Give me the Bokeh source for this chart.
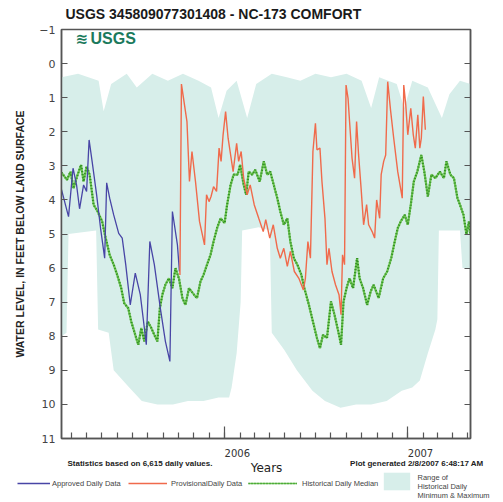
import numpy as np
from bokeh.plotting import figure
from bokeh.models import Range1d, FixedTicker, LinearAxis, Label, Legend, LegendItem
from bokeh.layouts import column
from bokeh.embed import file_html
from bokeh.resources import INLINE

# ---------------- data ----------------
approved_dates = ["2005-02-10", "2005-02-24", "2005-03-05", "2005-03-12", "2005-03-18", "2005-03-26",
                  "2005-04-01", "2005-04-06", "2005-04-12", "2005-04-21", "2005-04-29", "2005-05-07",
                  "2005-05-11", "2005-05-17", "2005-05-25", "2005-06-04", "2005-06-11", "2005-06-18",
                  "2005-06-27", "2005-07-07", "2005-07-17", "2005-07-23", "2005-07-29", "2005-08-05",
                  "2005-08-14", "2005-08-26", "2005-09-05", "2005-09-14", "2005-09-19", "2005-09-29",
                  "2005-10-03"]
approved_vals = [3.7, 4.49, 3.07, 3.56, 4.26, 3.56,
                 3.75, 2.24, 2.87, 3.85, 4.85, 5.71,
                 3.5, 3.95, 4.44, 4.98, 5.12, 5.9,
                 7.08, 6.15, 6.78, 7.5, 8.25, 5.22,
                 5.9, 7.18, 8.15, 8.74, 4.34, 5.32,
                 6.1]

provisional_dates = ["2005-10-04", "2005-10-07", "2005-10-18", "2005-10-23", "2005-10-28", "2005-11-04",
                     "2005-11-12", "2005-11-22", "2005-11-26", "2005-12-01", "2005-12-05", "2005-12-10",
                     "2005-12-16", "2005-12-21", "2005-12-25", "2005-12-29", "2006-01-03", "2006-01-08",
                     "2006-01-13", "2006-01-18", "2006-01-25", "2006-01-29", "2006-02-03", "2006-02-08",
                     "2006-02-15", "2006-02-21", "2006-03-01", "2006-03-10", "2006-03-19", "2006-03-24",
                     "2006-04-01", "2006-04-08", "2006-04-16", "2006-04-22", "2006-04-29", "2006-05-06",
                     "2006-05-12", "2006-05-20", "2006-05-29", "2006-06-07", "2006-06-11", "2006-06-16",
                     "2006-06-21", "2006-06-26", "2006-07-01", "2006-07-04", "2006-07-10", "2006-07-14",
                     "2006-07-20", "2006-07-24", "2006-07-28", "2006-08-03", "2006-08-10", "2006-08-17",
                     "2006-08-21", "2006-08-24", "2006-08-28", "2006-08-31", "2006-09-04", "2006-09-07",
                     "2006-09-12", "2006-09-17", "2006-09-21", "2006-09-25", "2006-09-30", "2006-10-05",
                     "2006-10-11", "2006-10-15", "2006-10-22", "2006-10-27", "2006-10-31", "2006-11-06",
                     "2006-11-09", "2006-11-14", "2006-11-18", "2006-11-22", "2006-11-28", "2006-12-04",
                     "2006-12-12", "2006-12-21", "2006-12-24", "2006-12-28", "2007-01-01", "2007-01-07",
                     "2007-01-12", "2007-01-16", "2007-01-21", "2007-01-25", "2007-01-28", "2007-02-01",
                     "2007-02-05"]
provisional_vals = [6.2, 0.6, 1.70, 3.46, 2.58, 3.46,
                    4.63, 5.32, 3.85, 4.05, 3.9, 3.61,
                    3.75, 2.48, 2.87, 2.09, 1.41, 2.19,
                    2.68, 3.17, 2.34, 2.87, 2.58, 3.36,
                    3.85, 3.56, 4.14, 4.54, 4.93, 4.58,
                    5.12, 4.73, 5.42, 5.71, 5.42, 5.95,
                    5.51, 6.1, 6.3, 6.64, 6.3, 5.22,
                    5.71, 2.58, 1.75, 2.53, 2.48, 3.46,
                    4.54, 5.9, 5.42, 6.1, 6.49, 6.78,
                    7.37, 5.61, 5.9, 0.63, 1.02, 1.70,
                    2.78, 3.36, 1.70, 2.68, 3.66, 4.73,
                    4.14, 4.73, 4.93, 5.12, 4.0, 4.54,
                    3.26, 2.87, 2.68, 0.53, 1.41, 2.19,
                    3.17, 3.95, 0.63, 1.21, 2.09, 1.31,
                    2.09, 2.48, 1.50, 2.48, 2.19, 0.97,
                    1.94]

median_dates = ["2005-02-10", "2005-02-21", "2005-02-28", "2005-03-06", "2005-03-13", "2005-03-21",
                "2005-03-26", "2005-04-01", "2005-04-07", "2005-04-15", "2005-04-23", "2005-05-02",
                "2005-05-09", "2005-05-17", "2005-05-25", "2005-06-01", "2005-06-09", "2005-06-15",
                "2005-06-23", "2005-06-29", "2005-07-07", "2005-07-13", "2005-07-19", "2005-07-25",
                "2005-08-01", "2005-08-08", "2005-08-14", "2005-08-20", "2005-08-25", "2005-08-30",
                "2005-09-05", "2005-09-12", "2005-09-19", "2005-09-25", "2005-10-02", "2005-10-09",
                "2005-10-15", "2005-10-22", "2005-11-01", "2005-11-07", "2005-11-14", "2005-11-20",
                "2005-11-27", "2005-12-04", "2005-12-10", "2005-12-17", "2005-12-24", "2006-01-01",
                "2006-01-06", "2006-01-13", "2006-01-19", "2006-01-27", "2006-02-01", "2006-02-08",
                "2006-02-13", "2006-02-18", "2006-02-25", "2006-03-03", "2006-03-12", "2006-03-20",
                "2006-03-27", "2006-04-02", "2006-04-09", "2006-04-16", "2006-04-22", "2006-04-29",
                "2006-05-06", "2006-05-12", "2006-05-19", "2006-05-26", "2006-06-03", "2006-06-09",
                "2006-06-18", "2006-06-26", "2006-07-04", "2006-07-10", "2006-07-16", "2006-07-24",
                "2006-08-01", "2006-08-08", "2006-08-17", "2006-08-21", "2006-08-26", "2006-09-01",
                "2006-09-07", "2006-09-14", "2006-09-22", "2006-09-27", "2006-10-04", "2006-10-12",
                "2006-10-19", "2006-10-25", "2006-11-04", "2006-11-13", "2006-11-21", "2006-11-29",
                "2006-12-06", "2006-12-12", "2006-12-18", "2006-12-26", "2007-01-01", "2007-01-07",
                "2007-01-13", "2007-01-20", "2007-01-28", "2007-02-03", "2007-02-10", "2007-02-17",
                "2007-02-25", "2007-03-06", "2007-03-14", "2007-03-19", "2007-03-27", "2007-04-03",
                "2007-04-10", "2007-04-15", "2007-04-22", "2007-04-28", "2007-05-03", "2007-05-06"]
median_vals = [3.2, 3.41, 3.17, 3.66, 3.31, 2.97,
               3.46, 3.02, 3.26, 4.14, 4.34, 4.63,
               5.12, 5.61, 5.90, 6.2, 6.59, 7.03,
               7.18, 7.57, 7.96, 8.25, 7.76, 8.15,
               7.57, 7.76, 7.96, 8.15, 7.18, 6.78,
               6.49, 6.30, 6.59, 6.0, 6.30, 6.88,
               7.08, 6.59, 6.78, 6.88, 6.39, 6.20,
               5.90, 5.61, 5.22, 4.83, 4.54, 4.68,
               4.14, 3.56, 3.26, 3.26, 2.97, 3.56,
               3.85, 3.17, 3.26, 3.12, 3.46, 2.87,
               3.26, 3.17, 3.56, 3.95, 4.34, 4.73,
               4.54, 5.22, 5.71, 5.90, 6.20, 6.59,
               7.08, 7.57, 8.05, 8.35, 7.96, 8.05,
               6.98, 7.37, 7.96, 8.25, 6.98, 6.59,
               6.30, 6.59, 5.71, 6.30, 6.59, 7.08,
               6.69, 6.49, 6.88, 6.30, 6.10, 5.71,
               5.22, 4.83, 4.63, 4.44, 4.73, 4.14,
               3.46, 3.17, 2.68, 3.17, 3.90, 3.26,
               3.36, 3.17, 3.36, 2.87, 3.26, 3.36,
               3.95, 4.14, 4.44, 5.02, 4.63, 5.02]

range_max_dates = ["2005-02-10", "2005-03-15", "2005-04-25", "2005-05-05", "2005-05-20", "2005-06-20",
                   "2005-07-10", "2005-08-10", "2005-09-10", "2005-10-10", "2005-11-10", "2005-12-05",
                   "2005-12-20", "2006-01-05", "2006-01-25", "2006-02-15", "2006-03-05", "2006-04-05",
                   "2006-05-05", "2006-06-01", "2006-07-01", "2006-08-01", "2006-09-01", "2006-10-01",
                   "2006-10-20", "2006-11-05", "2006-12-10", "2006-12-25", "2007-01-10", "2007-02-10",
                   "2007-03-10", "2007-03-25", "2007-04-15", "2007-05-06"]
range_max = [0.4, 0.3, 0.5, 1.4, 0.6, 0.3,
             0.7, 0.3, 0.5, 0.3, 0.5, 0.7,
             1.6, 0.8, 0.5, 1.6, 0.6, 0.3,
             0.4, 0.5, 0.3, 0.4, 0.3, 0.5,
             1.3, 0.4, 0.6, 1.3, 0.5, 0.7,
             1.6, 0.9, 0.5, 0.6]
range_min_dates = ["2005-02-10", "2005-02-20", "2005-02-24", "2005-04-20", "2005-04-24", "2005-05-15",
                   "2005-05-25", "2005-06-25", "2005-07-20", "2005-08-20", "2005-09-20", "2005-10-20",
                   "2005-11-20", "2005-12-20", "2006-01-10", "2006-01-15", "2006-01-25", "2006-02-02",
                   "2006-02-05", "2006-03-10", "2006-04-01", "2006-04-05", "2006-04-30", "2006-05-25",
                   "2006-06-25", "2006-07-20", "2006-08-20", "2006-09-20", "2006-10-20", "2006-11-20",
                   "2006-12-20", "2007-01-10", "2007-01-25", "2007-02-10", "2007-02-25", "2007-03-01",
                   "2007-03-04", "2007-04-15", "2007-04-20", "2007-05-06"]
range_min = [8.0, 7.9, 5.0, 4.9, 7.8, 7.9,
             9.0, 9.5, 9.9, 10.0, 10.0, 9.9,
             9.9, 9.8, 9.8, 9.5, 8.5, 7.0,
             4.9, 4.8, 4.9, 7.9, 8.4, 9.0,
             9.6, 9.9, 10.1, 10.0, 10.0, 9.9,
             9.6, 9.5, 9.3, 8.5, 7.8, 7.5,
             4.9, 4.9, 6.0, 6.0]

year_ticks = ["2006-01-01", "2007-01-01"]
year_labels = ["2006", "2007"]
y_ticks = list(range(-1, 12))
x_start, x_end = "2005-02-10", "2007-05-06"


def ms(d):
    return float(np.datetime64(d, "ms").astype(np.int64))


def to_ms(ds):
    return [ms(d) for d in ds]


month_ticks = [ms(str(m)) for m in np.arange(np.datetime64("2005-03"), np.datetime64("2007-06"),
                                             np.timedelta64(1, "M"))]

# ---------------- geometry (page pixels) ----------------
W = 503
TOP_H, MAIN_H, BOT_H = 20, 426, 56
FL, FR = 61, 470          # frame left / right
X0, X1 = ms(x_start), ms(x_end)

BAND = "#D7EEEA"
BLUE = "#4845A6"
ORANGE = "#F06A4B"
GREEN_BASE = "#6EC453"
GREEN_DOT = "#2F8F22"
AX = "#555555"


def no_align(f):
    try:
        f.frame_align = False
    except Exception:
        pass


def strip(h, y0):
    f = figure(width=W, height=h, x_range=Range1d(0, W), y_range=Range1d(y0 + h, y0),
               x_axis_type=None, y_axis_type=None, output_backend="svg", toolbar_location=None,
               min_border=0, min_border_left=0, min_border_right=0, min_border_top=0, min_border_bottom=0)
    f.outline_line_color = None
    f.background_fill_color = "white"
    f.border_fill_color = "white"
    no_align(f)
    return f


def lab(f, text, px, py, size, style="normal", font="Liberation Sans", color="#222222", align="left"):
    f.add_layout(Label(x=px, y=py, text=text, text_font=font, text_font_size=size,
                       text_font_style=style, text_color=color, text_align=align,
                       text_baseline="middle"))


# ---------------- top strip: title ----------------
top = strip(TOP_H, 0)
lab(top, "USGS 345809077301408 - NC-173 COMFORT", 65, 13, "14px", "bold", color="#1a1a1a")

# ---------------- main chart ----------------
p = figure(width=W, height=MAIN_H, x_range=Range1d(X0, X1), y_range=Range1d(11, -1),
           x_axis_type=None, y_axis_type=None, output_backend="svg", toolbar_location=None,
           min_border_left=FL, min_border_right=W - FR, min_border_top=9, min_border_bottom=8)
no_align(p)
p.outline_line_color = AX
p.outline_line_width = 1.5
p.background_fill_color = "white"
p.border_fill_color = "white"

yax = LinearAxis(ticker=FixedTicker(ticks=y_ticks), major_tick_in=6, major_tick_out=0,
                 minor_tick_line_color=None, axis_line_color=AX, axis_line_width=1.5,
                 major_tick_line_color=AX, major_tick_line_width=1.2,
                 major_label_text_font="DejaVu Sans", major_label_text_font_size="11px",
                 major_label_text_color="#444444", major_label_standoff=6,
                 axis_label="WATER LEVEL, IN FEET BELOW LAND SURFACE",
                 axis_label_text_font="Liberation Sans", axis_label_text_font_size="10.5px",
                 axis_label_text_font_style="bold", axis_label_text_color="#222222",
                 axis_label_standoff=10)
p.add_layout(yax, "left")

rax = LinearAxis(ticker=FixedTicker(ticks=y_ticks), major_tick_in=6, major_tick_out=0,
                 minor_tick_line_color=None, axis_line_color=AX, axis_line_width=1.5,
                 major_tick_line_color=AX, major_tick_line_width=1.2,
                 major_label_overrides={t: "" for t in y_ticks}, major_label_standoff=0,
                 major_label_text_font_size="1px")
p.add_layout(rax, "right")

xt = to_ms(year_ticks)
xax = LinearAxis(ticker=FixedTicker(ticks=xt, minor_ticks=month_ticks), major_tick_in=12, major_tick_out=0,
                 minor_tick_in=6, minor_tick_out=0, axis_line_color=AX, axis_line_width=1.5,
                 major_tick_line_color=AX, major_tick_line_width=1.2, minor_tick_line_color=AX,
                 minor_tick_line_width=1.2, major_label_overrides={t: "" for t in xt},
                 major_label_standoff=0, major_label_text_font_size="1px")
p.add_layout(xax, "below")

band_x = to_ms(range_max_dates) + to_ms(range_min_dates)[::-1]
band_y = list(range_max) + list(range_min)[::-1]
p.patch(band_x, band_y, fill_color=BAND, line_color=None)
p.line(to_ms(median_dates), median_vals, line_color=GREEN_BASE, line_width=2.2)
p.line(to_ms(median_dates), median_vals, line_color=GREEN_DOT, line_width=2.2, line_dash="1 2")
p.line(to_ms(approved_dates), approved_vals, line_color=BLUE, line_width=1.3)
p.line(to_ms(provisional_dates), provisional_vals, line_color=ORANGE, line_width=1.4)

# USGS logo mark inside the frame
p.add_layout(Label(x=X0 + (75 - FL) / (FR - FL) * (X1 - X0), y=-1 + (38 - 29) / 409 * 12, text="\u224b",
                   text_font="DejaVu Sans", text_font_size="15px", text_font_style="bold",
                   text_color="#1B7A5C", text_baseline="middle"))
p.add_layout(Label(x=X0 + (90 - FL) / (FR - FL) * (X1 - X0), y=-1 + (38 - 29) / 409 * 12, text="USGS",
                   text_font="Liberation Sans", text_font_size="16px", text_font_style="bold",
                   text_color="#1B7A5C", text_baseline="middle"))

# ---------------- bottom strip: year labels, notes, legend ----------------
Y0B = TOP_H + MAIN_H
bot = strip(BOT_H, Y0B)
for t, l in zip(year_ticks, year_labels):
    px = FL + (ms(t) - X0) / (X1 - X0) * (FR - FL)
    lab(bot, l, px, 452, "10px", font="DejaVu Sans", color="#333333")
lab(bot, "Statistics based on 6,615 daily values.", 67, 463, "8px", "bold", color="#222222")
lab(bot, "Years", 266, 467, "12px", font="DejaVu Sans", color="#222222", align="center")
lab(bot, "Plot generated 2/8/2007 6:48:17 AM", 483, 463, "8px", "bold", color="#222222", align="right")
lab(bot, "Range of", 417, 477, "7.5px", color="#444444")
lab(bot, "Historical Daily", 417, 486, "7.5px", color="#444444")
lab(bot, "Minimum & Maximum", 417, 494.5, "7.5px", color="#444444")

# legend proxies: a single missing (NaN) point each, they only carry the styles
nan = [float("nan")]
g_app = bot.line(nan, nan, line_color=BLUE, line_width=1.3)
g_prov = bot.line(nan, nan, line_color=ORANGE, line_width=1.6)
g_med1 = bot.line(nan, nan, line_color=GREEN_BASE, line_width=1.6)
g_med2 = bot.line(nan, nan, line_color=GREEN_DOT, line_width=1.6, line_dash="1 2")
g_band = bot.patch(nan, nan, fill_color=BAND, line_color=None)


def leg(label, rends, gx, gw, std, gh, cy):
    lg = Legend(items=[LegendItem(label=label, renderers=rends)], orientation="horizontal",
                location=(gx, (Y0B + BOT_H) - (cy + gh / 2)), glyph_width=gw, glyph_height=gh,
                label_standoff=std, label_height=gh, label_width=10, padding=0, margin=0, spacing=0,
                label_text_font="Liberation Sans", label_text_font_size="7.5px",
                label_text_color="#444444", border_line_alpha=0, background_fill_alpha=0)
    bot.add_layout(lg)


leg("Approved Daily Data", [g_app], 17, 33, 2, 10, 483)
leg("ProvisionalDaily Data", [g_prov], 128, 39, 4, 10, 483)
leg("Historical Daily Median", [g_med1, g_med2], 248, 49, 5, 10, 483)
leg(" ", [g_band], 380, 33, 2, 22, 481)

layout = column(top, p, bot, spacing=0)
open("out.html", "w").write(file_html(layout, INLINE))
